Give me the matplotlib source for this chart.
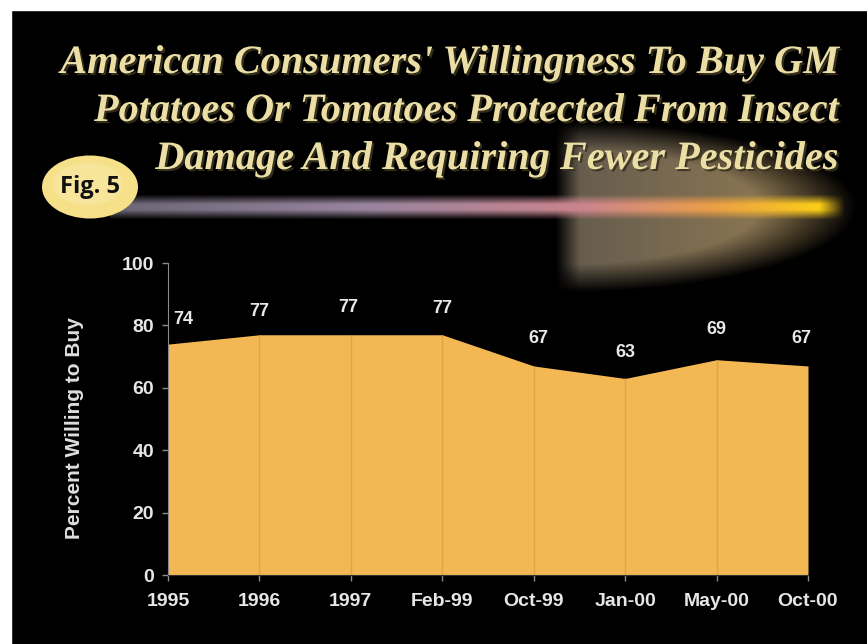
import numpy as np
import matplotlib
matplotlib.use("Agg")
import matplotlib.pyplot as plt
import matplotlib.patheffects as pe
from matplotlib.patches import Rectangle, Ellipse

# data
periods = ["1995", "1996", "1997", "Feb-99", "Oct-99", "Jan-00", "May-00", "Oct-00"]
willing = [74, 77, 77, 77, 67, 63, 69, 67]
yticks = [0, 20, 40, 60, 80, 100]
title_lines = ["American Consumers' Willingness To Buy GM",
               "Potatoes Or Tomatoes Protected From Insect",
               "Damage And Requiring Fewer Pesticides"]

W, H = 867, 644
fig = plt.figure(figsize=(W / 100, H / 100), dpi=100, facecolor="black")

# white margin on top and left
fig.add_artist(Rectangle((0, 0), 11 / W, 1, transform=fig.transFigure, color="white", zorder=0))
fig.add_artist(Rectangle((0, 1 - 10 / H), 1, 10 / H, transform=fig.transFigure, color="white", zorder=0))

# background layer in pixel coordinates
bg = fig.add_axes([0, 0, 1, 1], zorder=1)
bg.axis("off")

# comet halo
hx = np.linspace(555, 862, 320)
hy = np.linspace(118, 298, 190)
X, Y = np.meshgrid(hx, hy)
r = np.sqrt(((X - 560) / 298) ** 2 + ((Y - 207) / 86) ** 2)
a = np.clip((1 - r) * 3.0, 0, 1) * 0.78
a *= np.clip((X - 555) / 25, 0, 1)
t = (X - 555) / 307
halo = np.zeros(X.shape + (4,))
halo[..., 0] = 0.50 + 0.30 * t
halo[..., 1] = 0.46 + 0.20 * t
halo[..., 2] = 0.40 + 0.02 * t
halo[..., 3] = a
bg.imshow(halo, extent=(555, 862, 298, 118), origin="upper", aspect="auto", zorder=1)

# comet streak
sx = np.linspace(110, 845, 600)
sy = np.linspace(194, 220, 30)
SX, SY = np.meshgrid(sx, sy)
u = (SX - 110) / 735
stops = np.array([0.0, 0.35, 0.65, 0.82, 1.0])
cols = np.array([[0.42, 0.40, 0.46], [0.60, 0.52, 0.62], [0.80, 0.52, 0.55],
                 [0.92, 0.62, 0.28], [1.00, 0.85, 0.05]])
streak = np.zeros(SX.shape + (4,))
for c in range(3):
    streak[..., c] = np.interp(u, stops, cols[:, c])
v = np.abs(SY - 207) / 10
sa = np.clip(1.3 - v, 0, 1)
sa *= np.clip((845 - SX) / 25, 0, 1)
streak[..., 3] = sa
bg.imshow(streak, extent=(110, 845, 220, 194), origin="upper", aspect="auto", zorder=2)

# imshow resets limits, so set them afterwards
bg.set_xlim(0, W)
bg.set_ylim(H, 0)

# title
ys = [73, 121, 169]
for line, y in zip(title_lines, ys):
    bg.text(838, y, line, ha="right", va="baseline", fontsize=29, color="#ebdfa6",
            family="Liberation Serif", weight="bold", style="italic", zorder=5,
            path_effects=[pe.withSimplePatchShadow(offset=(1.5, -1.5), shadow_rgbFace="#3a3320", alpha=0.9)])

# Fig. 5 badge
bg.add_patch(Ellipse((90, 187), 96, 63, facecolor="#f6e08a", edgecolor="none", zorder=6))
bg.add_patch(Ellipse((88, 184), 70, 42, facecolor="#f9eaa8", edgecolor="none", alpha=0.6, zorder=6))
bg.text(90, 187, "Fig. 5", ha="center", va="center", fontsize=17, weight="bold",
        family="Open Sans", color="#111111", zorder=7)

# chart
ax = fig.add_axes([168 / W, 1 - 575 / H, (808 - 168) / W, (575 - 263) / H], zorder=3)
ax.patch.set_alpha(0)
x = np.arange(len(periods))
ax.fill_between(x, 0, willing, color="#f3b854", linewidth=0, zorder=2)
ax.vlines(x[1:-1], 0, np.array(willing[1:-1]), color="#e2a443", linewidth=1.0, zorder=3)

label_dx = [15, 0, -3, 0, 5, 0, 0, -7]
label_dy = [25, 23, 27, 26, 27, 26, 30, 27]
for xi, v, dx, dy in zip(x, willing, label_dx, label_dy):
    ax.annotate(str(v), (xi, v), xytext=(dx, dy), textcoords="offset pixels",
                ha="center", va="center", color="#e8e8e8", fontsize=13,
                weight="bold", family="Liberation Sans")

ax.set_xlim(0, len(periods) - 1)
ax.set_ylim(0, 100)
ax.set_xticks(x)
ax.set_xticklabels(periods)
ax.set_yticks(yticks)
for s in ["top", "right"]:
    ax.spines[s].set_visible(False)
ax.spines["left"].set_color("#8a8a8a")
ax.spines["bottom"].set_color("#333333")
ax.tick_params(axis="both", colors="#8a8a8a", length=4, width=1)
ax.tick_params(axis="x", labelcolor="#e6e6e6", labelsize=14, pad=9)
ax.tick_params(axis="y", labelcolor="#e6e6e6", labelsize=14, pad=6)
for lbl in ax.get_xticklabels() + ax.get_yticklabels():
    lbl.set_fontweight("bold")
    lbl.set_family("Liberation Sans")
ax.set_ylabel("Percent Willing to Buy", color="#dedede", fontsize=15,
              weight="bold", family="Liberation Sans")
ax.yaxis.set_label_coords(-0.132, 0.47)

fig.savefig("out.png", dpi=100, facecolor="black")
